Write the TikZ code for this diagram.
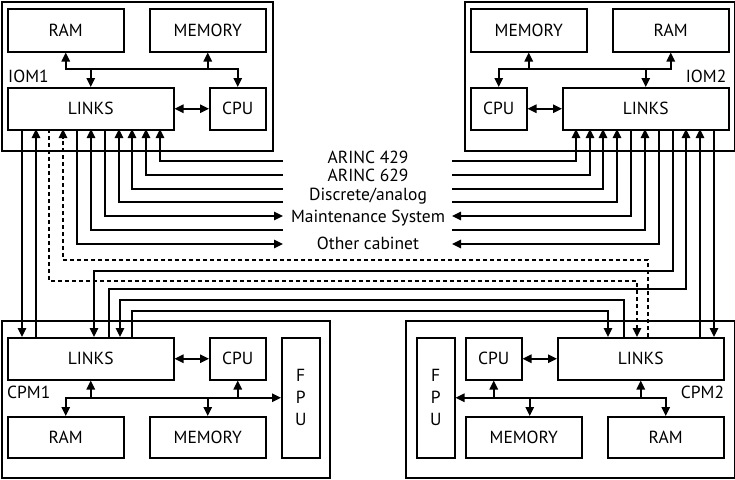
\documentclass[tikz,border=0pt]{standalone}
\usepackage{fontspec}
\setmainfont{PT Sans}
\usetikzlibrary{arrows.meta, positioning, calc}

\tikzset{
  unit/.style={draw, line width=1.5pt, anchor=north west, inner sep=0pt, align=center},
  cabinet/.style={draw, line width=1.7pt, anchor=north west, inner sep=0pt},
  tag/.style={inner sep=0pt},
  sig/.style={line width=1.5pt},
  link/.style={sig, dash pattern=on 4pt off 3pt},
}

\begin{document}
\begin{tikzpicture}[x=1pt, y=-1pt, >={Triangle[length=9pt,width=8.5pt]},
    font=\fontsize{17.5}{22}\selectfont]
\useasboundingbox (0,0) rectangle (735,479);

% IOM1
\node[cabinet, minimum width=271pt, minimum height=149pt] (iom1) at (1,1) {};
\node[unit, minimum width=116pt, minimum height=43pt] (ram1) at (7,8) {RAM};
\node[unit, minimum width=116pt, minimum height=43pt] (mem1) at (149,8) {MEMORY};
\node[unit, minimum width=166pt, minimum height=42pt] (links1) at (7,87) {LINKS};
\node[unit, minimum width=56pt, minimum height=42pt] (cpu1) at (209,87) {CPU};
\node[tag, anchor=base west] (lbl1) at (8,82.7) {IOM1};
\coordinate (bus1) at (0,69);
\draw[sig,<->] (ram1.south) |- (cpu1 |- bus1) -- (cpu1.north);
\draw[sig,->] (mem1 |- bus1) -- (mem1.south);
\draw[sig,->] (links1 |- bus1) -- (links1.north);
\draw[sig,<->] (links1.east) -- (cpu1.west);

% IOM2
\node[cabinet, minimum width=270pt, minimum height=149pt] (iom2) at (464,1) {};
\node[unit, minimum width=116pt, minimum height=43pt] (mem2) at (470,8) {MEMORY};
\node[unit, minimum width=116pt, minimum height=43pt] (ram2) at (612,8) {RAM};
\node[unit, minimum width=56pt, minimum height=42pt] (cpu2) at (470,87) {CPU};
\node[unit, minimum width=166pt, minimum height=42pt] (links2) at (562,87) {LINKS};
\node[tag, anchor=base east] (lbl2) at (726.5,82.7) {IOM2};
\draw[sig,<->] (cpu2.north) |- (ram2 |- bus1) -- (ram2.south);
\draw[sig,->] (mem2 |- bus1) -- (mem2.south);
\draw[sig,->] (links2 |- bus1) -- (links2.north);
\draw[sig,<->] (cpu2.east) -- (links2.west);

% CPM1
\node[cabinet, minimum width=328pt, minimum height=157pt] (cpm1) at (1,320) {};
\node[unit, minimum width=166pt, minimum height=42pt] (links3) at (7,337) {LINKS};
\node[unit, minimum width=56pt, minimum height=42pt] (cpu3) at (209,337) {CPU};
\node[unit, minimum width=38pt, minimum height=120pt] (fpu3) at (281,337) {F\\P\\U};
\node[unit, minimum width=116pt, minimum height=41pt] (ram3) at (7,416) {RAM};
\node[unit, minimum width=116pt, minimum height=41pt] (mem3) at (149,416) {MEMORY};
\node[tag, anchor=base west] (lbl3) at (7,398.3) {CPM1};
\draw[sig,<->] (ram3.north) |- (fpu3.west);
\draw[sig,->] (links3 |- fpu3) -- (links3.south);
\draw[sig,->] (cpu3 |- fpu3) -- (cpu3.south);
\draw[sig,->] (mem3 |- fpu3) -- (mem3.north);
\draw[sig,<->] (links3.east) -- (cpu3.west);

% CPM2
\node[cabinet, minimum width=329pt, minimum height=157pt] (cpm2) at (405,320) {};
\node[unit, minimum width=38pt, minimum height=120pt] (fpu4) at (416,337) {F\\P\\U};
\node[unit, minimum width=56pt, minimum height=42pt] (cpu4) at (465,337) {CPU};
\node[unit, minimum width=166pt, minimum height=42pt] (links4) at (557,337) {LINKS};
\node[unit, minimum width=116pt, minimum height=41pt] (mem4) at (465,416) {MEMORY};
\node[unit, minimum width=116pt, minimum height=41pt] (ram4) at (607,416) {RAM};
\node[tag, anchor=base east] (lbl4) at (724.3,398.3) {CPM2};
\draw[sig,<->] (fpu4.east) -| (ram4.north);
\draw[sig,->] (links4 |- fpu4) -- (links4.south);
\draw[sig,->] (cpu4 |- fpu4) -- (cpu4.south);
\draw[sig,->] ([xshift=6pt]mem4.north |- fpu4) -- ([xshift=6pt]mem4.north);
\draw[sig,<->] (cpu4.east) -- (links4.west);

% signals in the middle
\node[tag, anchor=base] (arinc4) at (368,163.3) {ARINC 429};
\node[tag, anchor=base] (arinc6) at (368,181) {ARINC 629};
\node[tag, anchor=base] (discr) at (368,200) {Discrete/analog};
\node[tag, anchor=base] (maint) at (368,222.3) {Maintenance System};
\node[tag, anchor=base] (other) at (368,249) {Other cabinet};
\coordinate (inL) at (283,0);
\coordinate (inR) at (452,0);

% rows and lanes
\foreach \i in {1,...,7}
  \coordinate (row\i) at (0,{round(160.7+13.93*(\i-1))});
\foreach \n/\y in {dsh1/260, xr1/271, dsh2/281, xr2/289, xr3/300, xr4/311}
  \coordinate (\n) at (0,\y);
\foreach \i in {1,...,11}{
  \coordinate (a\i) at ({round(21.7+13.83*(\i-1))},129);
  \coordinate (b\i) at ({round(575.7+13.83*(\i-1))},129);
}
\foreach \n/\x in {1/94, 2/109, 3/120, 4/132}
  \coordinate (c\n) at (\x,337);
\foreach \n/\x in {1/608, 2/624, 3/637, 4/648}
  \coordinate (d\n) at (\x,337);

% inputs and outputs of the IOMs
\foreach \r/\l/\m in {1/11/1, 2/10/2, 3/9/3, 4/8/4, 6/6/6}{
  \draw[sig,->] (inL |- row\r) -| (a\l);
  \draw[sig,->] (inR |- row\r) -| (b\m);
}
\foreach \r/\l/\m in {5/7/5, 7/5/7}{
  \draw[sig,->] (a\l) |- (inL |- row\r);
  \draw[sig,->] (b\m) |- (inR |- row\r);
}

% cross links
\draw[sig,->] (a1) -- (a1 |- links3.north);
\draw[sig,->] (a2 |- links3.north) -- (a2);
\draw[link,->] (d4) |- (a4 |- dsh1) -- (a4);
\draw[link,->] (a3) |- (d3 |- dsh2) -- (d3);
\draw[sig,->] (b8) |- (c1 |- xr1) -- (c1);
\draw[sig,->] (c2) |- (b9 |- xr2) -- (b9);
\draw[sig,->] (d2) |- (c3 |- xr3) -- (c3);
\draw[sig,->] (c4) |- (d1 |- xr4) -- (d1);
\draw[sig,->] (b10 |- links4.north) -- (b10);
\draw[sig,->] (b11) -- (b11 |- links4.north);
\end{tikzpicture}
\end{document}
